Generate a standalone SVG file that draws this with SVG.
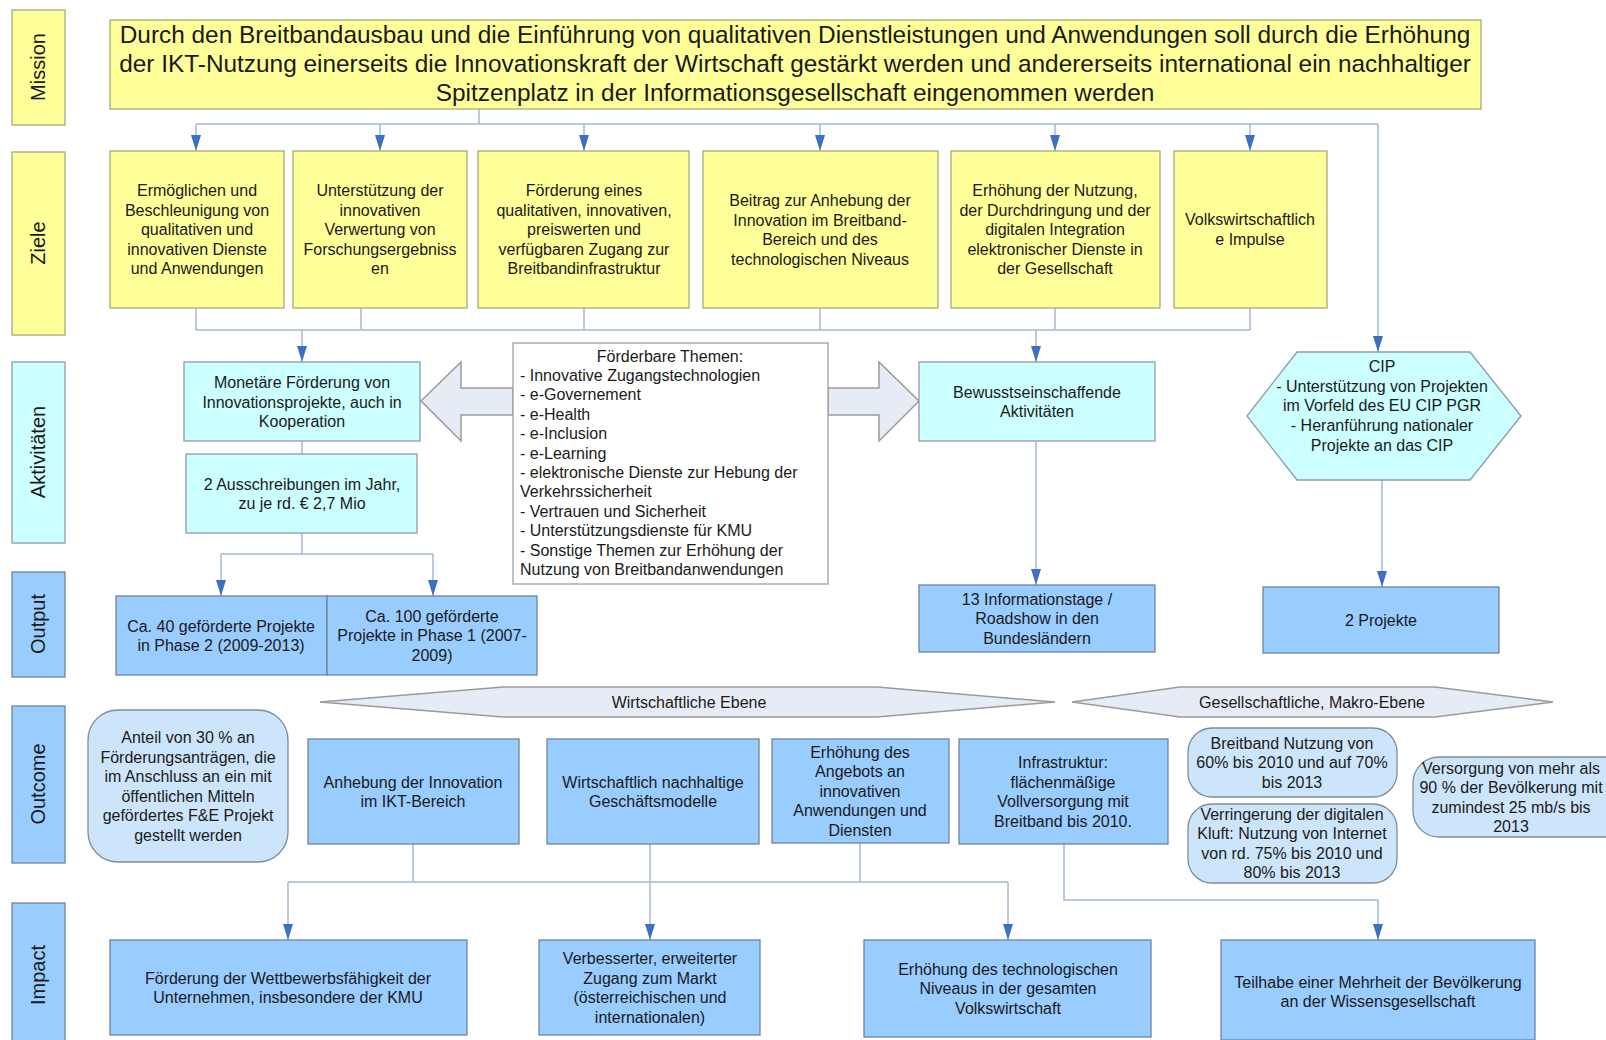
<svg xmlns="http://www.w3.org/2000/svg" width="1606" height="1040" viewBox="0 0 1606 1040">
<defs>
<style>
text{font-family:"Liberation Sans",Arial,sans-serif;fill:#1a1a1a;}
.t{font-size:16px;text-anchor:middle;}
.tl{font-size:16px;text-anchor:start;}
.m{font-size:24.4px;text-anchor:middle;}
.lab{font-size:20px;text-anchor:middle;}
.y{fill:#ffff99;stroke:#a9a97c;stroke-width:1.3;}
.c{fill:#ccffff;stroke:#8f9aa8;stroke-width:1.3;}
.b{fill:#99ccff;stroke:#6f849c;stroke-width:1.3;}
.r{fill:#cde5fb;stroke:#7f8c9c;stroke-width:1.3;}
.w{fill:#ffffff;stroke:#a0a0a0;stroke-width:1.3;}
.band{fill:#e6ecf6;stroke:#9a9a9a;stroke-width:1.5;}
.ln{fill:none;stroke:#a6b9d6;stroke-width:1.5;}
.ar{fill:none;stroke:#a6b9d6;stroke-width:1.5;marker-end:url(#ah);}
</style>
<marker id="ah" markerWidth="16" markerHeight="10" refX="16" refY="5" orient="auto" markerUnits="userSpaceOnUse" viewBox="0 0 16 10"><path d="M0,0 L16,5 L0,10 z" fill="#3f6fc1"/></marker>
</defs>
<rect width="1606" height="1040" fill="#ffffff"/>

<g id="labels">
<g id="lab-mission"><rect class="y" x="12" y="10" width="53" height="115"/><text class="lab" transform="translate(45,67) rotate(-90)">Mission</text></g>
<g id="lab-ziele"><rect class="y" x="12" y="152" width="53" height="183"/><text class="lab" transform="translate(45,243) rotate(-90)">Ziele</text></g>
<g id="lab-akt"><rect class="c" x="12" y="362" width="53" height="181"/><text class="lab" transform="translate(45,452) rotate(-90)">Aktivitäten</text></g>
<g id="lab-output"><rect class="b" x="12" y="572" width="53" height="105"/><text class="lab" transform="translate(45,624) rotate(-90)">Output</text></g>
<g id="lab-outcome"><rect class="b" x="12" y="706" width="53" height="157"/><text class="lab" transform="translate(45,784) rotate(-90)">Outcome</text></g>
<g id="lab-impact"><rect class="b" x="12" y="903" width="53" height="145"/><text class="lab" transform="translate(45,975) rotate(-90)">Impact</text></g>
</g>

<g id="connectors">
<path class="ln" d="M479,109 V124"/>
<path class="ln" d="M196,124 H1378"/>
<path class="ar" d="M196,124 V151"/>
<path class="ar" d="M380,124 V151"/>
<path class="ar" d="M584,124 V151"/>
<path class="ar" d="M820,124 V151"/>
<path class="ar" d="M1055,124 V151"/>
<path class="ar" d="M1250,124 V151"/>
<path class="ar" d="M1378,124 V352"/>
<path class="ln" d="M196,308 V330 M361,308 V330 M584,308 V330 M820,308 V330 M1055,308 V330 M1250,308 V330 M196,330 H1250"/>
<path class="ar" d="M302,330 V362"/>
<path class="ar" d="M1036,330 V362"/>
<path class="ln" d="M302,441 V454 M302,533 V554 M221,554 H433"/>
<path class="ar" d="M221,554 V596"/>
<path class="ar" d="M433,554 V596"/>
<path class="ar" d="M1036,441 V585"/>
<path class="ar" d="M1382,480 V587"/>
<path class="ln" d="M413,844 V882 M860,843 V882 M288,882 H1008"/>
<path class="ar" d="M288,882 V940"/>
<path class="ar" d="M1008,882 V940"/>
<path class="ar" d="M650,844 V940"/>
<path class="ar" d="M1064,844 V900 H1378 V940"/>
<path class="band" d="M421,401 L461,362 L461,388 L513,388 L513,415 L461,415 L461,441 Z"/>
<path class="band" d="M828,388 L879,388 L879,362 L919,401 L879,441 L879,415 L828,415 Z"/>
</g>

<g id="mission">
<rect class="y" x="110" y="20" width="1371" height="89"/>
<text class="m" x="795" y="43">Durch den Breitbandausbau und die Einführung von qualitativen Dienstleistungen und Anwendungen soll durch die Erhöhung</text>
<text class="m" x="795" y="72">der IKT-Nutzung einerseits die Innovationskraft der Wirtschaft gestärkt werden und andererseits international ein nachhaltiger</text>
<text class="m" x="795" y="101">Spitzenplatz in der Informationsgesellschaft eingenommen werden</text>
</g>

<g id="ziel1"><rect class="y" x="110" y="151" width="174" height="157"/>
<text class="t"><tspan x="197" y="196">Ermöglichen und</tspan><tspan x="197" y="215.5">Beschleunigung von</tspan><tspan x="197" y="235">qualitativen und</tspan><tspan x="197" y="254.5">innovativen Dienste</tspan><tspan x="197" y="274">und Anwendungen</tspan></text></g>
<g id="ziel2"><rect class="y" x="293" y="151" width="174" height="157"/>
<text class="t"><tspan x="380" y="196">Unterstützung der</tspan><tspan x="380" y="215.5">innovativen</tspan><tspan x="380" y="235">Verwertung von</tspan><tspan x="380" y="254.5">Forschungsergebniss</tspan><tspan x="380" y="274">en</tspan></text></g>
<g id="ziel3"><rect class="y" x="478" y="151" width="211" height="157"/>
<text class="t"><tspan x="584" y="196">Förderung eines</tspan><tspan x="584" y="215.5">qualitativen, innovativen,</tspan><tspan x="584" y="235">preiswerten und</tspan><tspan x="584" y="254.5">verfügbaren Zugang zur</tspan><tspan x="584" y="274">Breitbandinfrastruktur</tspan></text></g>
<g id="ziel4"><rect class="y" x="703" y="151" width="235" height="157"/>
<text class="t"><tspan x="820" y="206">Beitrag zur Anhebung der</tspan><tspan x="820" y="225.5">Innovation im Breitband-</tspan><tspan x="820" y="245">Bereich und des</tspan><tspan x="820" y="264.5">technologischen Niveaus</tspan></text></g>
<g id="ziel5"><rect class="y" x="951" y="151" width="209" height="157"/>
<text class="t"><tspan x="1055" y="196">Erhöhung der Nutzung,</tspan><tspan x="1055" y="215.5">der Durchdringung und der</tspan><tspan x="1055" y="235">digitalen Integration</tspan><tspan x="1055" y="254.5">elektronischer Dienste in</tspan><tspan x="1055" y="274">der Gesellschaft</tspan></text></g>
<g id="ziel6"><rect class="y" x="1174" y="151" width="153" height="157"/>
<text class="t"><tspan x="1250" y="225">Volkswirtschaftlich</tspan><tspan x="1250" y="244.5">e Impulse</tspan></text></g>

<g id="monetaer"><rect class="c" x="184" y="362" width="236" height="79"/>
<text class="t"><tspan x="302" y="388">Monetäre Förderung von</tspan><tspan x="302" y="407.5">Innovationsprojekte, auch in</tspan><tspan x="302" y="427">Kooperation</tspan></text></g>
<g id="ausschreibungen"><rect class="c" x="186" y="454" width="231" height="79"/>
<text class="t"><tspan x="302" y="489.5">2 Ausschreibungen im Jahr,</tspan><tspan x="302" y="509">zu je rd. € 2,7 Mio</tspan></text></g>
<g id="themen"><rect class="w" x="513" y="343" width="315" height="241"/>
<text class="t" x="670" y="361.7">Förderbare Themen:</text>
<text class="tl"><tspan x="520" y="381">- Innovative Zugangstechnologien</tspan><tspan x="520" y="400.4">- e-Governement</tspan><tspan x="520" y="419.8">- e-Health</tspan><tspan x="520" y="439.2">- e-Inclusion</tspan><tspan x="520" y="458.6">- e-Learning</tspan><tspan x="520" y="478">- elektronische Dienste zur Hebung der</tspan><tspan x="520" y="497.4">Verkehrssicherheit</tspan><tspan x="520" y="516.8">- Vertrauen und Sicherheit</tspan><tspan x="520" y="536.2">- Unterstützungsdienste für KMU</tspan><tspan x="520" y="555.6">- Sonstige Themen zur Erhöhung der</tspan><tspan x="520" y="575">Nutzung von Breitbandanwendungen</tspan></text></g>
<g id="bewusst"><rect class="c" x="919" y="362" width="236" height="79"/>
<text class="t"><tspan x="1037" y="397.5">Bewusstseinschaffende</tspan><tspan x="1037" y="417">Aktivitäten</tspan></text></g>
<g id="cip"><polygon class="c" points="1297,352 1470,352 1521,416 1470,480 1297,480 1247,416"/>
<text class="t"><tspan x="1382" y="372">CIP</tspan><tspan x="1382" y="391.7">- Unterstützung von Projekten</tspan><tspan x="1382" y="411.4">im Vorfeld des EU CIP PGR</tspan><tspan x="1382" y="431.1">- Heranführung nationaler</tspan><tspan x="1382" y="450.8">Projekte an das CIP</tspan></text></g>

<g id="out40"><rect class="b" x="116" y="596" width="211" height="79"/>
<text class="t"><tspan x="221" y="631.5">Ca. 40 geförderte Projekte</tspan><tspan x="221" y="651">in Phase 2 (2009-2013)</tspan></text></g>
<g id="out100"><rect class="b" x="327" y="596" width="210" height="79"/>
<text class="t"><tspan x="432" y="621.7">Ca. 100 geförderte</tspan><tspan x="432" y="641.2">Projekte in Phase 1 (2007-</tspan><tspan x="432" y="660.7">2009)</tspan></text></g>
<g id="info"><rect class="b" x="919" y="585" width="236" height="67"/>
<text class="t"><tspan x="1037" y="604.7">13 Informationstage /</tspan><tspan x="1037" y="624.2">Roadshow in den</tspan><tspan x="1037" y="643.7">Bundesländern</tspan></text></g>
<g id="projekte2"><rect class="b" x="1263" y="587" width="236" height="66"/>
<text class="t" x="1381" y="625.7">2 Projekte</text></g>

<g id="ebene-wirtschaft"><polygon class="band" points="320,702 503,687 877,687 1055,702 877,717 503,717"/>
<text class="t" x="689" y="707.6">Wirtschaftliche Ebene</text></g>
<g id="ebene-gesell"><polygon class="band" points="1072,702 1180,687 1435,687 1553,702 1435,717 1180,717"/>
<text class="t" x="1312" y="707.6">Gesellschaftliche, Makro-Ebene</text></g>

<g id="anteil"><rect class="r" x="88" y="710" width="200" height="152" rx="30" ry="30"/>
<text class="t"><tspan x="188" y="743">Anteil von 30 % an</tspan><tspan x="188" y="762.5">Förderungsanträgen, die</tspan><tspan x="188" y="782">im Anschluss an ein mit</tspan><tspan x="188" y="801.5">öffentlichen Mitteln</tspan><tspan x="188" y="821">gefördertes F&amp;E Projekt</tspan><tspan x="188" y="840.5">gestellt werden</tspan></text></g>
<g id="anhebung"><rect class="b" x="308" y="739" width="211" height="105"/>
<text class="t"><tspan x="413" y="787.5">Anhebung der Innovation</tspan><tspan x="413" y="807">im IKT-Bereich</tspan></text></g>
<g id="geschaeft"><rect class="b" x="547" y="739" width="212" height="105"/>
<text class="t"><tspan x="653" y="787.5">Wirtschaftlich nachhaltige</tspan><tspan x="653" y="807">Geschäftsmodelle</tspan></text></g>
<g id="angebot"><rect class="b" x="772" y="739" width="177" height="104"/>
<text class="t"><tspan x="860" y="757.7">Erhöhung des</tspan><tspan x="860" y="777.2">Angebots an</tspan><tspan x="860" y="796.7">innovativen</tspan><tspan x="860" y="816.2">Anwendungen und</tspan><tspan x="860" y="835.7">Diensten</tspan></text></g>
<g id="infra"><rect class="b" x="959" y="739" width="209" height="105"/>
<text class="t"><tspan x="1063" y="768">Infrastruktur:</tspan><tspan x="1063" y="787.5">flächenmäßige</tspan><tspan x="1063" y="807">Vollversorgung mit</tspan><tspan x="1063" y="826.5">Breitband bis 2010.</tspan></text></g>
<g id="bbnutzung"><rect class="r" x="1188" y="728" width="209" height="69" rx="24" ry="24"/>
<text class="t"><tspan x="1292" y="748.7">Breitband Nutzung von</tspan><tspan x="1292" y="768.2">60% bis 2010 und auf 70%</tspan><tspan x="1292" y="787.7">bis 2013</tspan></text></g>
<g id="kluft"><rect class="r" x="1188" y="804" width="209" height="79" rx="24" ry="24"/>
<text class="t"><tspan x="1292" y="819.7">Verringerung der digitalen</tspan><tspan x="1292" y="839.2">Kluft: Nutzung von Internet</tspan><tspan x="1292" y="858.7">von rd. 75% bis 2010 und</tspan><tspan x="1292" y="878.2">80% bis 2013</tspan></text></g>
<g id="versorgung"><rect class="r" x="1413" y="757" width="220" height="80" rx="26" ry="26"/>
<text class="t"><tspan x="1511" y="773.5">Versorgung von mehr als</tspan><tspan x="1511" y="793">90 % der Bevölkerung mit</tspan><tspan x="1511" y="812.5">zumindest 25 mb/s bis</tspan><tspan x="1511" y="832">2013</tspan></text></g>

<g id="wettbewerb"><rect class="b" x="110" y="940" width="357" height="95"/>
<text class="t"><tspan x="288" y="983.5">Förderung der Wettbewerbsfähigkeit der</tspan><tspan x="288" y="1003">Unternehmen, insbesondere der KMU</tspan></text></g>
<g id="markt"><rect class="b" x="539" y="940" width="221" height="95"/>
<text class="t"><tspan x="650" y="964">Verbesserter, erweiterter</tspan><tspan x="650" y="983.5">Zugang zum Markt</tspan><tspan x="650" y="1003">(österreichischen und</tspan><tspan x="650" y="1022.5">internationalen)</tspan></text></g>
<g id="niveau"><rect class="b" x="864" y="940" width="287" height="97"/>
<text class="t"><tspan x="1008" y="974.7">Erhöhung des technologischen</tspan><tspan x="1008" y="994.2">Niveaus in der gesamten</tspan><tspan x="1008" y="1013.7">Volkswirtschaft</tspan></text></g>
<g id="teilhabe"><rect class="b" x="1221" y="940" width="314" height="100"/>
<text class="t"><tspan x="1378" y="987.5">Teilhabe einer Mehrheit der Bevölkerung</tspan><tspan x="1378" y="1007">an der Wissensgesellschaft</tspan></text></g>
</svg>
